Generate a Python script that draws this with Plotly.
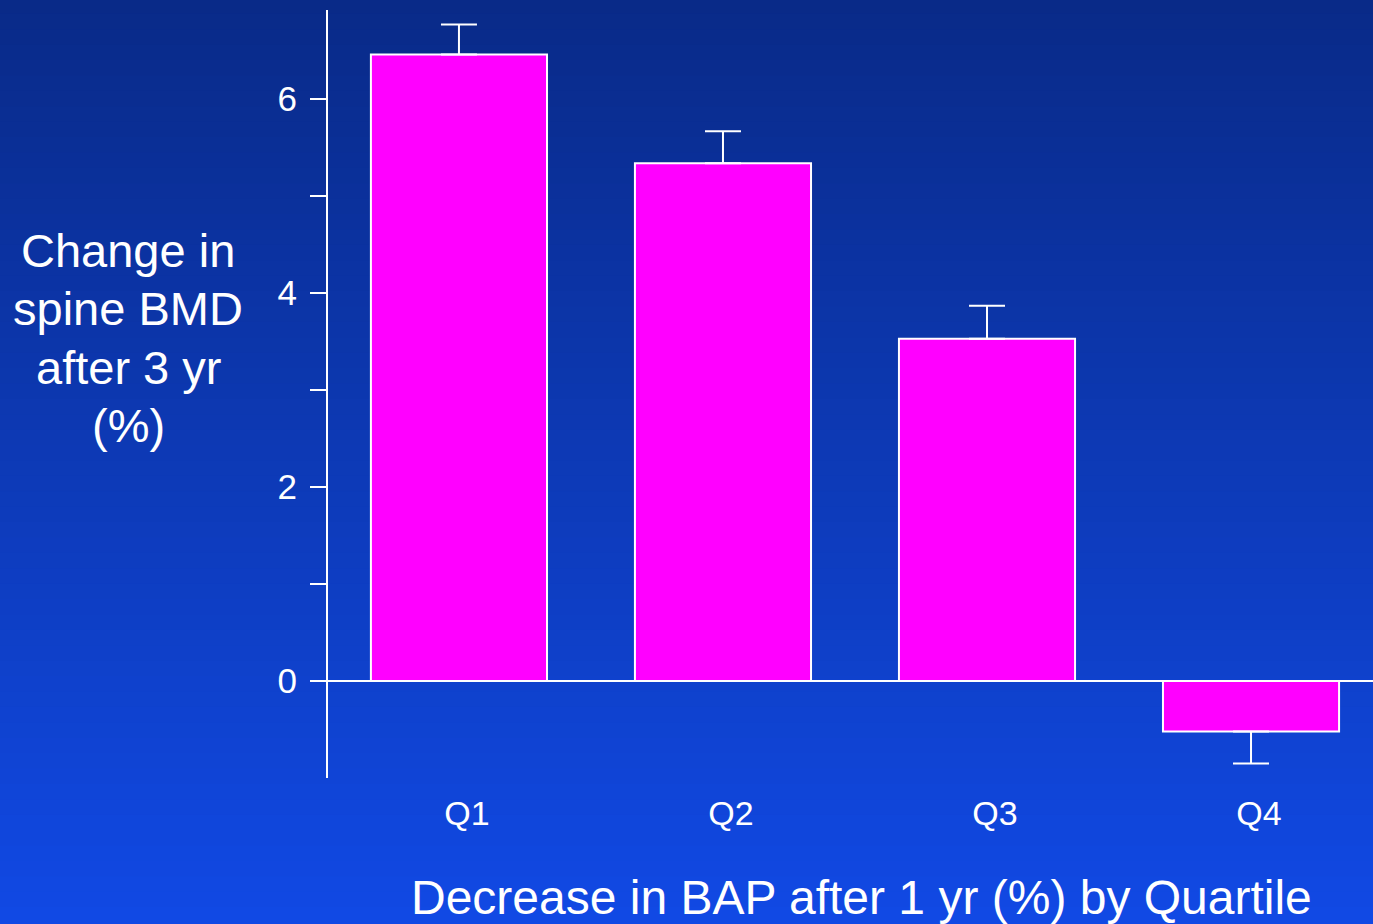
import plotly.graph_objects as go

# ---- data ----
categories = ["Q1", "Q2", "Q3", "Q4"]
values = [6.46, 5.34, 3.53, -0.52]
err_plus = [0.31, 0.33, 0.34, 0.0]
err_minus = [0.0, 0.0, 0.0, 0.33]
y_tick_vals = [0, 2, 4, 6]
y_title_lines = ["Change in", "spine BMD", "after 3 yr", "(%)"]
x_title = "Decrease in BAP after 1 yr (%) by Quartile"

W, H = 1373, 924
FONT = "Liberation Sans, Arial, sans-serif"

fig = go.Figure()
fig.add_trace(go.Bar(
    x=categories, y=values, width=0.667,
    marker=dict(color="#ff00ff", line=dict(color="white", width=2)),
    error_y=dict(type="data", symmetric=False, array=err_plus, arrayminus=err_minus,
                 color="white", thickness=2, width=18),
))

# vertical gradient background via stacked rectangles
top = (9, 42, 136)
bot = (17, 73, 228)
n = 60
shapes = []
for i in range(n):
    t = i / (n - 1)
    c = tuple(round(top[k] + (bot[k] - top[k]) * t) for k in range(3))
    y1 = 1 - i / n
    y0 = 1 - (i + 1) / n
    shapes.append(dict(type="rect", xref="paper", yref="paper", layer="below",
                       x0=-330 / 1045, x1=1.01,
                       y0=(y0 * H - 146) / 768 - 0.002, y1=(y1 * H - 146) / 768 + 0.002,
                       fillcolor="rgb(%d,%d,%d)" % c, line=dict(width=0)))

def py(pix):
    return (H - pix - 146) / 768

annotations = []
for i, line in enumerate(y_title_lines):
    annotations.append(dict(text=line, xref="paper", yref="paper", x=-200 / 1045,
                            y=py(250 + 58.5 * i), xanchor="center", yanchor="middle",
                            showarrow=False, font=dict(size=47, color="white", family=FONT)))
annotations.append(dict(text=x_title, xref="paper", yref="paper", x=(861 - 328) / 1045, y=py(897),
                        xanchor="center", yanchor="middle", showarrow=False,
                        font=dict(size=48, color="white", family=FONT)))

fig.update_layout(
    width=W, height=H,
    margin=dict(l=328, r=0, t=10, b=146),
    paper_bgcolor="rgb(13,57,182)",
    plot_bgcolor="rgba(0,0,0,0)",
    showlegend=False,
    shapes=shapes,
    font=dict(family=FONT, color="white", size=34),
    xaxis=dict(range=[-0.496, 3.462], showline=False, showgrid=False, zeroline=False,
               ticks="", tickfont=dict(size=34, color="white"),
               ticklabelstandoff=12, ticklabelshift=8),
    yaxis=dict(range=[-1, 6.92], tickvals=y_tick_vals, showgrid=False,
               showline=True, linecolor="white", linewidth=2,
               zeroline=True, zerolinecolor="white", zerolinewidth=2,
               ticks="outside", ticklen=16, tickwidth=2, tickcolor="white",
               tickfont=dict(size=35, color="white"), ticklabelstandoff=6,
               minor=dict(tickvals=[1, 3, 5], ticks="outside", ticklen=16,
                          tickwidth=2, tickcolor="white")),
    annotations=annotations,
)

fig.write_html("out.html", config={"displayModeBar": False},
               post_script="document.body.style.margin='0';document.body.style.overflow='hidden';")
